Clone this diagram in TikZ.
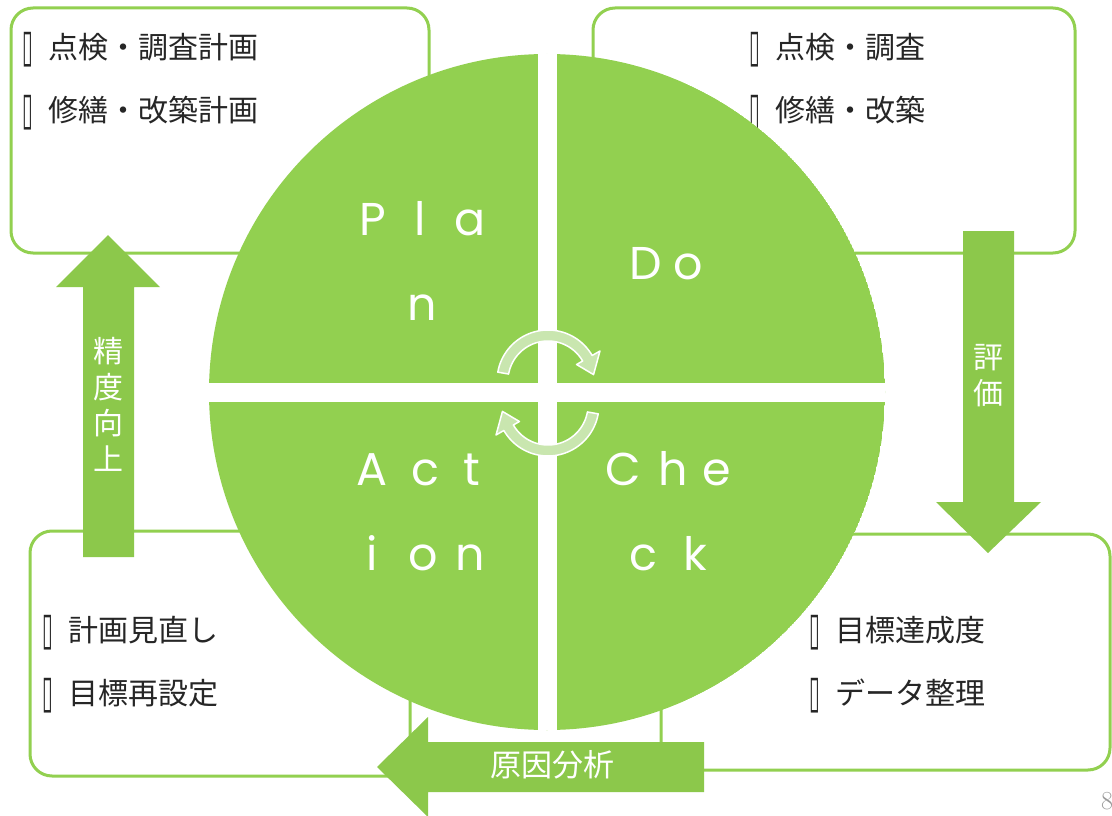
\documentclass[tikz,border=0pt]{standalone}
\usepackage{fontspec}
\usepackage{graphicx}
\newfontfamily\jpfont{Noto Sans CJK JP}
\newfontfamily\latinfont{Poppins}
\newfontfamily\dvfont{DejaVu Sans}
\definecolor{pdgreen}{HTML}{92D050}
\definecolor{arrgreen}{HTML}{8CC84B}
\definecolor{cycgreen}{HTML}{C9E6AF}
\definecolor{txtcol}{HTML}{262626}
\newcommand{\tofu}{\raisebox{-3pt}{\scalebox{0.75}[1.75]{\dvfont\fontsize{26}{26}\selectfont ▯}}\hspace{16pt}}
\begin{document}
\begin{tikzpicture}[x=1pt,y=-1pt,
  box/.style={draw=pdgreen, line width=3pt, rounded corners=22pt},
  blockarrow/.style={fill=arrgreen},
  item/.style={anchor=west, inner sep=0pt, text=txtcol, font=\jpfont\fontsize{30}{36}\selectfont},
  letter/.style={anchor=base, inner sep=0pt, text=white, font=\latinfont\fontsize{46}{46}\selectfont},
  arrlabel/.style={text=white, font=\jpfont\fontsize{30}{36}\selectfont, align=center, inner sep=0pt},
  cyc/.style={fill=cycgreen, draw=white, line width=1.5pt, line join=round}]
\useasboundingbox (0,0) rectangle (1112,816);
\fill[white] (0,0) rectangle (1112,816);

% boxes
\draw[box] (11,8) rectangle (429,253);
\draw[box] (593,8) rectangle (1075,253);
\draw[box] (30,531) rectangle (410,776);
\draw[box] (661,534) rectangle (1110,770);

% box texts
\node[item] (pl1) at (22,50) {\tofu 点検・調査計画};
\node[item] (pl2) at (22,113) {\tofu 修繕・改築計画};
\node[item] (do1) at (749,50) {\tofu 点検・調査};
\node[item] (do2) at (749,113) {\tofu 修繕・改築};
\node[item] (ac1) at (42,633) {\tofu 計画見直し};
\node[item] (ac2) at (42,696) {\tofu 目標再設定};
\node[item] (ch1) at (809,633) {\tofu 目標達成度};
\node[item] (ch2) at (809,696) {\tofu データ整理};

% circle
\begin{scope}
  \clip (547,392) circle[radius=338];
  \fill[pdgreen] (547,392) circle[radius=338];
  \fill[white] (537.5,0) rectangle (556.5,816);
  \fill[white] (0,383) rectangle (1112,402);
\end{scope}

% quadrant letters
\foreach \t/\px/\py [count=\i] in {P/373/235, l/420/235, a/470/235, n/422/320,
  D/646/279, o/688/279,
  A/372/485, c/425/485, t/472/485, i/372/570, o/423/570, n/470/570,
  C/623/485, h/673/485, e/717/485, c/643/570, k/695/570}
  \node[letter] (ltr\i) at (\px,\py) {\t};

% cycle arrows
\path[cyc] plot[domain=190:330, samples=40] ({548+51*cos(\x)},{381+51*sin(\x)})
  -- ({548+60*cos(330)},{381+60*sin(330)})
  -- ({548+46*cos(352)},{381+46*sin(352)})
  -- ({548+33*cos(330)},{381+33*sin(330)})
  -- plot[domain=330:190, samples=40] ({548+40*cos(\x)},{381+40*sin(\x)}) -- cycle;
\begin{scope}[rotate around={180:(548,393)}]
\path[cyc] plot[domain=190:330, samples=40] ({548+51*cos(\x)},{381+51*sin(\x)})
  -- ({548+60*cos(330)},{381+60*sin(330)})
  -- ({548+46*cos(352)},{381+46*sin(352)})
  -- ({548+33*cos(330)},{381+33*sin(330)})
  -- plot[domain=330:190, samples=40] ({548+40*cos(\x)},{381+40*sin(\x)}) -- cycle;
\end{scope}

% block arrows
\fill[blockarrow] (83,557) -- (83,287) -- (56,287) -- (108,235) -- (160,287) -- (134,287) -- (134,557) -- cycle;
\fill[blockarrow] (963,231) -- (1014,231) -- (1014,502) -- (1041,502) -- (988,553) -- (936,502) -- (963,502) -- cycle;
\fill[blockarrow] (704,742) -- (704,792) -- (428,792) -- (428,817) -- (377,767) -- (428,717) -- (428,742) -- cycle;

\node[arrlabel] (up) at (108,404) {精\\度\\向\\上};
\node[arrlabel] (down) at (988,376) {評\\価};
\node[arrlabel, font=\jpfont\fontsize{31}{36}\selectfont] (left) at (552,765) {原因分析};

% page number
\node[anchor=west, inner sep=0pt, text=black!40, font=\fontsize{26}{26}\selectfont] (pg) at (1101,801) {8};
\end{tikzpicture}
\end{document}
